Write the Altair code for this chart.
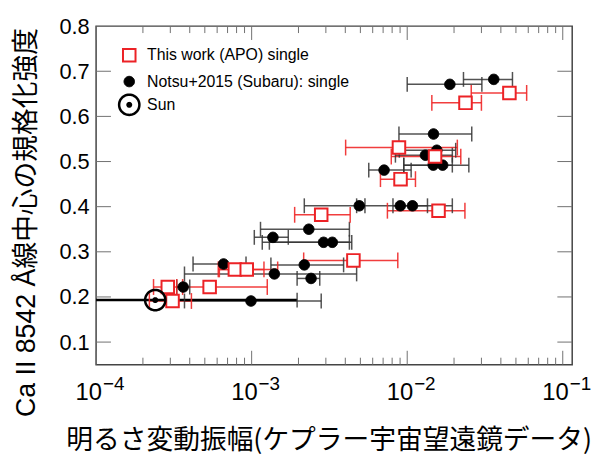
import math
import altair as alt
import pandas as pd

APO = "This work (APO) single"
NOT = "Notsu+2015 (Subaru): single"
SUN = "Sun"

# This work (APO): amplitude, intensity, error low/high
apo_x = [0.0454, 0.0237, 0.00885, 0.0151, 0.00906, 0.0159, 0.0028, 0.00451, 0.00078, 0.00093, 0.000289, 0.000537, 0.00031]
apo_y = [0.652, 0.630, 0.531, 0.511, 0.461, 0.391, 0.382, 0.281, 0.261, 0.261, 0.222, 0.222, 0.191]
apo_lo = [0.0258, 0.0144, 0.00402, 0.0079, 0.00673, 0.00746, 0.00189, 0.00216, 0.00061, 0.00062, 0.000234, 0.00033, 0.00022]
apo_hi = [0.0586, 0.030, 0.021, 0.0221, 0.0113, 0.0235, 0.0043, 0.0087, 0.0012, 0.00147, 0.00036, 0.00126, 0.00041]

# Notsu+2015 (Subaru)
not_x = [0.036, 0.0188, 0.01476, 0.0155, 0.0131, 0.0147, 0.0169, 0.0071, 0.00492, 0.00903, 0.01081,
         0.00233, 0.00137, 0.0029, 0.0033, 0.00066, 0.00218, 0.0014, 0.00241, 0.000363, 0.00099]
not_y = [0.682, 0.671, 0.561, 0.525, 0.514, 0.492, 0.492, 0.481, 0.402, 0.402, 0.402,
         0.350, 0.332, 0.321, 0.321, 0.273, 0.271, 0.251, 0.241, 0.222, 0.191]
not_lo = [0.023, 0.010, 0.00885, 0.0089, 0.0084, 0.0095, 0.0095, 0.00566, 0.00473, 0.00218, 0.0081,
          0.00114, 0.00104, 0.00117, 0.0013, 0.00042, 0.00133, 0.00037, 0.00196, 0.00033, 0.00037]
not_hi = [0.0475, 0.0302, 0.026, 0.0205, 0.0195, 0.0195, 0.0249, 0.0106, 0.00535, 0.0135, 0.0195,
          0.00425, 0.00172, 0.00425, 0.0044, 0.00092, 0.0039, 0.00473, 0.00274, 0.0004, 0.0028]

# Sun
sun_x = [0.00024]
sun_y = [0.193]
sun_lo = [0.00003]
sun_hi = [0.00196]

y_ticks = [0.1, 0.2, 0.3, 0.4, 0.5, 0.6, 0.7, 0.8]
x_major = [1e-4, 1e-3, 1e-2, 1e-1]
x_exp = ["\u22124", "\u22123", "\u22122", "\u22121"]
x_minor = [k * m for m in (1e-4, 1e-3, 1e-2) for k in range(2, 10)]

rows = []
for name, xs_, ys_, los, his in [(NOT, not_x, not_y, not_lo, not_hi),
                                 (APO, apo_x, apo_y, apo_lo, apo_hi),
                                 (SUN, sun_x, sun_y, sun_lo, sun_hi)]:
    for x, y, lo, hi in zip(xs_, ys_, los, his):
        rows.append({"series": name, "x": x, "y": y, "lo": lo, "hi": hi})
df = pd.DataFrame(rows)

W, H = 481, 342
RED = "#ec2226"
LAT = "Liberation Sans, Noto Sans CJK JP"
CJK = "Noto Sans CJK JP"


def ring(r, reverse=False, n=48):
    p = [(r * math.cos(2 * math.pi * i / n), r * math.sin(2 * math.pi * i / n)) for i in range(n)]
    if reverse:
        p = p[::-1]
    return "M" + "L".join(f"{a:.3f},{b:.3f}" for a, b in p) + "Z"


# marker shapes, all drawn in one unit box and one symbol size
SYM_SIZE = 530
SQUARE_PATH = "M-0.55,-0.55L0.55,-0.55L0.55,0.55L-0.55,0.55Z"
DOT_PATH = ring(0.46)
SUN_PATH = ring(1.0) + ring(0.78, reverse=True) + ring(0.26)
CAP = "M0,-1L0,1"

xs = alt.Scale(type="log", domain=[1e-4, 0.115], nice=False)
ys = alt.Scale(domain=[0.05, 0.8], zero=False, nice=False)

x_axis = alt.Axis(labels=False, ticks=False, domain=False, grid=False,
                  title="明るさ変動振幅(ケプラー宇宙望遠鏡データ)",
                  titleFont=CJK, titleFontSize=27, titleFontWeight="normal", titleColor="black",
                  titleX=235, titleY=85, titleAlign="center", titleBaseline="alphabetic", titleLimit=1000)
y_axis = alt.Axis(values=y_ticks, format=".1f", ticks=False, domain=False, grid=False,
                  labelFont=LAT, labelFontSize=22, labelColor="black", labelPadding=7,
                  title="Ca II 8542 Å線中心の規格化強度",
                  titleFont=LAT, titleFontSize=27, titleFontWeight="normal", titleColor="black",
                  titleAngle=270, titleX=-70, titleY=198, titleAlign="center", titleBaseline="middle",
                  titleLimit=1000)


def X(f):
    return alt.X(f, scale=xs, axis=x_axis)


def Y(f):
    return alt.Y(f, scale=ys, axis=y_axis)


base = alt.Chart(df)

# error bar lines
err_black = base.transform_filter(alt.datum.series == NOT).mark_rule(
    color="#353535", strokeWidth=1.5, opacity=0.85).encode(x=X("lo:Q"), x2="hi:Q", y=Y("y:Q"))
err_red = base.transform_filter(alt.datum.series == APO).mark_rule(
    color="#f02828", strokeWidth=1.5, opacity=0.9).encode(x=X("lo:Q"), x2="hi:Q", y=Y("y:Q"))
err_sun = base.transform_filter(alt.datum.series == SUN).mark_rule(
    color="black", strokeWidth=2.5, clip=True).encode(x=X("lo:Q"), x2="hi:Q", y=Y("y:Q"))

caps = base.transform_fold(["lo", "hi"], as_=["end", "xv"])
cap_black = caps.transform_filter(alt.datum.series != APO).mark_point(
    shape=CAP, size=225, stroke="#353535", strokeWidth=1.5, filled=False, opacity=0.85, clip=True).encode(
    x=X("xv:Q"), y=Y("y:Q"))
cap_red = caps.transform_filter(alt.datum.series == APO).mark_point(
    shape=CAP, size=256, stroke="#f02828", strokeWidth=1.5, filled=False, opacity=0.9, clip=True).encode(
    x=X("xv:Q"), y=Y("y:Q"))

dom = [APO, NOT, SUN]
leg = alt.Legend(title=None, orient="none", legendX=20.5, legendY=16.5, padding=0,
                 labelFont=LAT, labelFontSize=16, labelColor="black", labelLimit=0,
                 labelOffset=5, rowPadding=3, symbolSize=SYM_SIZE)
pts = base.mark_point(filled=True, opacity=1, size=SYM_SIZE).encode(
    x=X("x:Q"), y=Y("y:Q"),
    shape=alt.Shape("series:N", scale=alt.Scale(domain=dom, range=[SQUARE_PATH, DOT_PATH, SUN_PATH]), legend=leg),
    fill=alt.Fill("series:N", scale=alt.Scale(domain=dom, range=["white", "black", "black"]), legend=leg),
    stroke=alt.Stroke("series:N", scale=alt.Scale(domain=dom, range=[RED, "black", "black"]), legend=leg),
    strokeWidth=alt.StrokeWidth("series:N", scale=alt.Scale(domain=dom, range=[2, 0]), legend=leg),
)

# inward frame ticks
tick_col = "#707070"
xmaj = alt.Chart(pd.DataFrame({"v": x_major, "e": x_exp}))
xmin = alt.Chart(pd.DataFrame({"v": x_minor}))
ymaj = alt.Chart(pd.DataFrame({"v": y_ticks[:-1]}))
ticks = [
    xmaj.mark_rule(color=tick_col, strokeWidth=1).encode(x=X("v:Q"), y=alt.value(H), y2=alt.value(H - 14)),
    xmaj.mark_rule(color=tick_col, strokeWidth=1).encode(x=X("v:Q"), y=alt.value(0), y2=alt.value(14)),
    xmin.mark_rule(color=tick_col, strokeWidth=1).encode(x=X("v:Q"), y=alt.value(H), y2=alt.value(H - 7)),
    xmin.mark_rule(color=tick_col, strokeWidth=1).encode(x=X("v:Q"), y=alt.value(0), y2=alt.value(7)),
    ymaj.mark_rule(color=tick_col, strokeWidth=1).encode(y=Y("v:Q"), x=alt.value(0), x2=alt.value(15)),
    ymaj.mark_rule(color=tick_col, strokeWidth=1).encode(y=Y("v:Q"), x=alt.value(W - 15), x2=alt.value(W)),
]
lab10 = xmaj.mark_text(text="10", font=LAT, fontSize=24, align="right", baseline="alphabetic",
                       dx=6, color="black").encode(x=X("v:Q"), y=alt.value(H + 36))
labexp = xmaj.mark_text(font=LAT, fontSize=19, align="left", baseline="alphabetic",
                        dx=7, color="black").encode(x=X("v:Q"), y=alt.value(H + 26), text="e:N")

chart = alt.layer(err_black, err_red, err_sun, cap_black, cap_red, *ticks,
                  pts, lab10, labexp).properties(
    width=W, height=H, autosize="none",
    padding={"left": 89, "top": 16, "right": 20, "bottom": 92},
    background="white",
).configure_view(stroke="#444444", strokeWidth=1.5)

chart.save("out.html", embed_options={"renderer": "svg", "actions": False})
